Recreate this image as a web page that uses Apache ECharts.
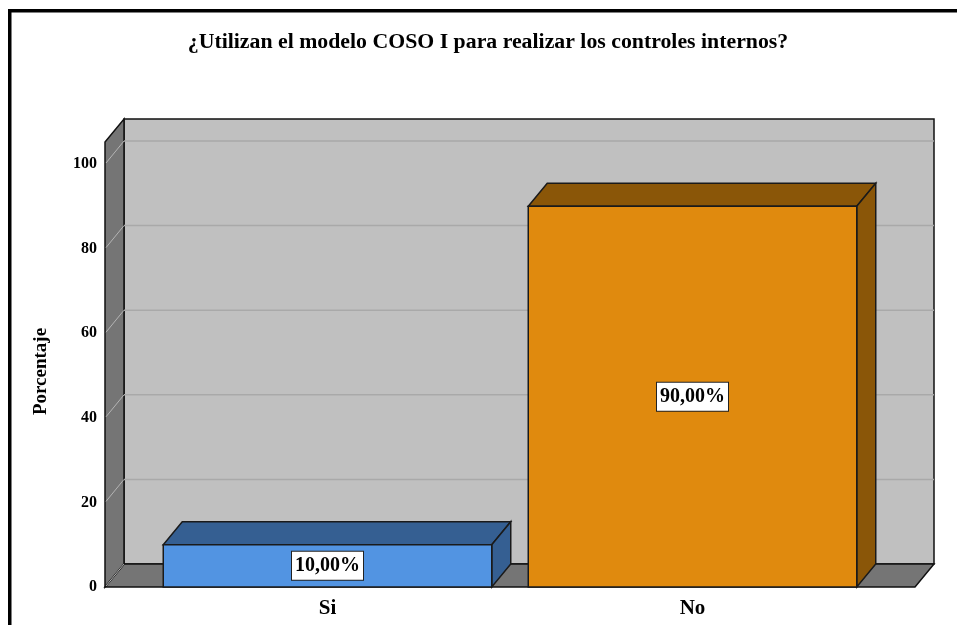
<!DOCTYPE html>
<html><head><meta charset="utf-8">
<style>html,body{margin:0;padding:0;background:#fff}#c{width:957px;height:625px}</style>
<script src="https://cdn.jsdelivr.net/npm/echarts@6/dist/echarts.min.js"></script>
</head><body><div id="c"></div>
<script>
const titleText = '¿Utilizan el modelo COSO I para realizar los controles internos?';
const categories = ['Si', 'No'];
const values = [10, 90];
const valueLabels = ['10,00%', '90,00%'];
const yTicks = [0, 20, 40, 60, 80, 100];
const faceColors = ['#5294e2', '#e08a0e'];
const topColors = ['#355f92', '#8a5608'];
const DX = 19, DY = -23, SIDE = 40, FONT = '"Liberation Serif", serif';

const chart = echarts.init(document.getElementById('c'), null, {renderer: 'canvas'});
const line = {stroke: '#111', lineWidth: 1.5};

function renderWalls(params, api) {
  const band = api.size([1, 0])[0];
  const left = api.coord([0, 0])[0] - band / 2 - SIDE;
  const right = api.coord([1, 0])[0] + band / 2 + SIDE;
  const y0 = api.coord([0, 0])[1];
  const frontTop = api.coord([0, 100])[1] - 22;
  const kids = [
    {type: 'polygon', shape: {points: [[left + DX, frontTop + DY], [right + DX, frontTop + DY], [right + DX, y0 + DY], [left + DX, y0 + DY]]}, style: {fill: '#c0c0c0', stroke: '#111', lineWidth: 1.5}},
    {type: 'polygon', shape: {points: [[left, y0], [right, y0], [right + DX, y0 + DY], [left + DX, y0 + DY]]}, style: Object.assign({fill: '#757575'}, line)},
    {type: 'polygon', shape: {points: [[left, y0], [left + DX, y0 + DY], [left + DX, frontTop + DY], [left, frontTop]]}, style: Object.assign({fill: '#757575'}, line)}
  ];
  yTicks.forEach(t => {
    const y = api.coord([0, t])[1];
    if (t > 0) kids.push({type: 'line', shape: {x1: left + DX, y1: y + DY, x2: right + DX, y2: y + DY}, style: {stroke: '#a9a9a9', lineWidth: 1.5}});
    kids.push({type: 'line', shape: {x1: left + 1, y1: y - 1, x2: left + DX, y2: y + DY}, style: {stroke: '#b4b4b4', lineWidth: 1}});
  });
  return {type: 'group', children: kids};
}

function renderBar(params, api) {
  const i = api.value(0), v = api.value(1);
  const w = api.size([1, 0])[0] * 0.9;
  const [cx, y0] = api.coord([i, 0]);
  const y1 = api.coord([i, v])[1];
  const x0 = cx - w / 2, x1 = cx + w / 2;
  const face = faceColors[i], dark = topColors[i];
  const s = {stroke: '#1a1a1a', lineWidth: 1.5};
  return {type: 'group', children: [
    {type: 'polygon', shape: {points: [[x0, y1], [x1, y1], [x1 + DX, y1 + DY], [x0 + DX, y1 + DY]]}, style: Object.assign({fill: dark}, s)},
    {type: 'polygon', shape: {points: [[x1, y1], [x1 + DX, y1 + DY], [x1 + DX, y0 + DY], [x1, y0]]}, style: Object.assign({fill: dark}, s)},
    {type: 'rect', shape: {x: x0, y: y1, width: w, height: y0 - y1}, style: Object.assign({fill: face}, s)},
    {type: 'text', x: cx, y: (y0 + y1) / 2, style: {
      text: valueLabels[i], align: 'center', verticalAlign: 'middle',
      font: 'bold 20px ' + FONT, fill: '#000', backgroundColor: '#fff',
      borderColor: '#222', borderWidth: 1, padding: [5, 3, 3, 3]
    }}
  ]};
}

chart.setOption({
  animation: false,
  backgroundColor: '#fff',
  grid: {left: 145, right: 82, top: 164, bottom: 38},
  xAxis: {type: 'category', data: categories, axisLine: {show: false}, axisTick: {show: false},
    axisLabel: {margin: 11, fontFamily: FONT, fontSize: 21, fontWeight: 'bold', color: '#000'}},
  yAxis: {type: 'value', min: 0, max: 100, interval: 20, offset: 40,
    axisLine: {show: false}, axisTick: {show: false}, splitLine: {show: false},
    axisLabel: {margin: 8, fontFamily: FONT, fontSize: 16, fontWeight: 'bold', color: '#000'},
    name: 'Porcentaje', nameLocation: 'middle', nameGap: 54, nameRotate: 90,
    nameTextStyle: {fontFamily: FONT, fontSize: 19, fontWeight: 'bold', color: '#000', padding: [0, 0, 0, 8]}},
  series: [
    {type: 'custom', z: 1, silent: true, renderItem: renderWalls, data: [[0, 0]], clip: false},
    {type: 'custom', z: 2, renderItem: renderBar, clip: false, encode: {x: 0, y: 1},
      data: values.map((v, i) => [i, v])}
  ],
  graphic: [
    {type: 'rect', z: 10, shape: {x: 8, y: 9, width: 949, height: 3.5}, style: {fill: '#000'}},
    {type: 'rect', z: 10, shape: {x: 8, y: 9, width: 3.5, height: 616}, style: {fill: '#000'}},
    {type: 'text', z: 10, x: 488, y: 43, scaleX: 1.09, style: {text: titleText, align: 'center', verticalAlign: 'middle',
      font: 'bold 20px ' + FONT, fill: '#000'}}
  ]
});
</script></body></html>
